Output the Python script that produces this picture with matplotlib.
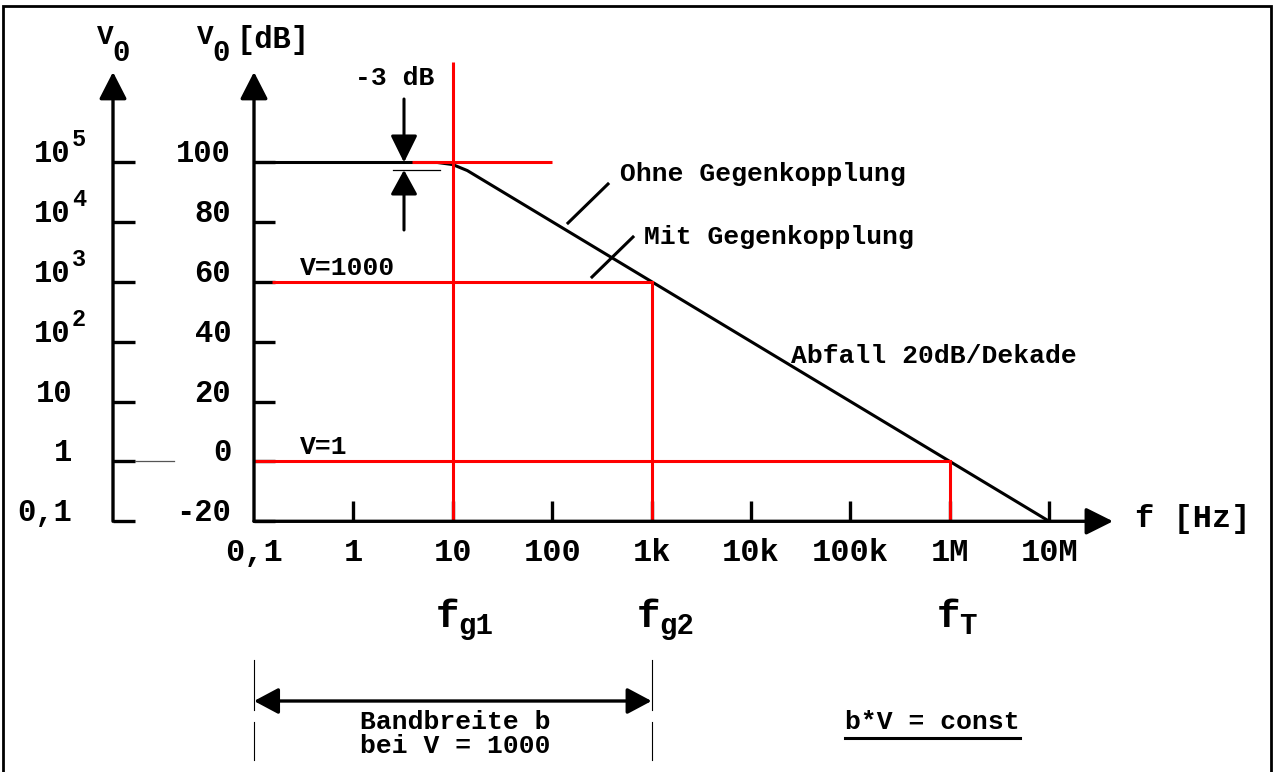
import matplotlib
matplotlib.use("Agg")
import matplotlib.pyplot as plt
from matplotlib.transforms import Affine2D

# ---------------- data ----------------
freq_ticks = [0.1, 1, 10, 100, 1e3, 1e4, 1e5, 1e6, 1e7]
freq_labels = ['0,1', '1', '10', '100', '1k', '10k', '100k', '1M', '10M']
db_ticks = [-20, 0, 20, 40, 60, 80, 100]
db_labels = ['-20', '0', '20', '40', '60', '80', '100']
v0_mant = ['0,1', '1', '10', '10', '10', '10', '10']
v0_exp = ['', '', '', '2', '3', '4', '5']

# open loop response (Ohne Gegenkopplung)
open_f = [0.1, 7, 10, 14, 1e7]
open_db = [100, 100, 99.3, 97.3, -20]

# closed loop (Mit Gegenkopplung)
cl_labels = ['V=1000', 'V=1']
cl_db = [60, 0]
cl_fstart = [0.15, 0.1]
cl_fc = [1e3, 1e6]

fg1 = 10            # corner of open loop
open_gain = 100     # dB
minus3_db = 97.5
fg_names = ['g1', 'g2', 'T']
fg_freqs = [10, 1e3, 1e6]
band_f = [0.1, 1e3]

# ---------------- geometry helpers ----------------
W, H = 1275, 772
X0, DEC = 254.0, 99.4      # pixel of 0.1 Hz, pixels per decade
Y0, PXDB = 461.5, 2.99     # pixel of 0 dB, pixels per dB


def fx(p):
    return 10 ** (-1 + (p - X0) / DEC)


def fy(p):
    return (Y0 - p) / PXDB


FONT = 'Liberation Mono'
RED = '#ff0000'

fig = plt.figure(figsize=(W / 100, H / 100), dpi=100)
ax = fig.add_axes([0, 0, 1, 1])
ax.set_xscale('log')
ax.set_xlim(fx(0), fx(W))
ax.set_ylim(fy(H), fy(0))
ax.axis('off')

PX = Affine2D().scale(1 / W, -1 / H).translate(0, 1) + fig.transFigure


def txt(x, y, s, size, ha='left', va='baseline', trans=PX, **kw):
    ax.text(x, y, s, fontsize=size, ha=ha, va=va, transform=trans,
            family=FONT, weight='bold', color='black', **kw)


def arrow(x0, y0, x1, y1, hl=1.66, hw=0.85, lw=2.4, style='-|>'):
    ax.annotate('', xy=(x1, y1), xytext=(x0, y0),
                arrowprops=dict(arrowstyle=f'{style},head_length={hl},head_width={hw}',
                                lw=lw, color='black', shrinkA=0, shrinkB=0,
                                mutation_scale=10),
                zorder=5)


# border
ax.plot([fx(3), fx(3), fx(1271), fx(1271)], [fy(771), fy(6), fy(6), fy(771)],
        color='black', lw=2, solid_joinstyle='miter', clip_on=False)

AXLW = 2.4
# dB axis
arrow(0.1, -20, 0.1, fy(72))
for d in db_ticks:
    ax.plot([0.1, fx(275)], [d, d], color='black', lw=AXLW, solid_capstyle='butt')
for d, lab in zip(db_ticks, db_labels):
    txt(fx(231), d, lab, 22, ha='right', trans=ax.transData)

# V0 axis
arrow(fx(113), -20, fx(113), fy(72))
for d in db_ticks:
    ax.plot([fx(113), fx(135)], [d, d], color='black', lw=AXLW, solid_capstyle='butt')
ax.plot([fx(135), fx(174)], [0, 0], color='#555555', lw=0.9)
for d, m, e in zip(db_ticks, v0_mant, v0_exp):
    if e:
        txt(fx(70), d, m, 22, ha='right', trans=ax.transData)
        txt(fx(72), d + 16 / PXDB, e, 17, ha='left', trans=ax.transData)
    else:
        txt(fx(72), d, m, 22, ha='right', trans=ax.transData)

# frequency axis
arrow(0.1, -20, fx(1113), -20, hl=1.66, hw=0.83)
for f in freq_ticks[1:]:
    ax.plot([f, f], [-20, fy(501)], color='black', lw=AXLW, solid_capstyle='butt')
for f, lab in zip(freq_ticks, freq_labels):
    txt(f, fy(561), lab, 23, ha='center', trans=ax.transData)
txt(1135, 527, 'f [Hz]', 23)

# axis titles
txt(97, 44, 'V', 20)
txt(112, 61, '0', 21)
txt(197, 44, 'V', 20)
txt(212, 61, '0', 21)
txt(236, 48, '[dB]', 22)

# open loop curve
ax.plot(open_f, open_db, color='black', lw=2.2, zorder=3, solid_capstyle='butt')

# red lines
RLW = 2.2
ax.plot([fg1, fg1], [-20, fy(62)], color=RED, lw=RLW, zorder=4, solid_capstyle='butt')
ax.plot([fx(412), 100], [open_gain, open_gain], color=RED, lw=RLW, zorder=4,
        solid_capstyle='butt')
for lab, d, f0, fc in zip(cl_labels, cl_db, cl_fstart, cl_fc):
    ax.plot([f0, fc, fc], [d, d, -20], color=RED, lw=RLW, zorder=4,
            solid_joinstyle='miter', solid_capstyle='butt')
    txt(fx(300), d + 7 / PXDB, lab, 19, trans=ax.transData)

# -3 dB marker
ax.plot([fx(393), fx(440)], [minus3_db, minus3_db], color='black', lw=0.9, zorder=3)
arrow(fx(404), fy(99), fx(404), open_gain, hl=1.66, hw=0.82, lw=2.2)
arrow(fx(404), fy(230), fx(404), minus3_db, hl=1.5, hw=0.82, lw=2.2)
txt(355, 85, '-3 dB', 19)

# leader lines and annotations
ax.plot([fx(568), fx(608)], [fy(223), fy(184)], color='black', lw=2.2)
ax.plot([fx(592), fx(633)], [fy(277), fy(237)], color='black', lw=2.2)
txt(620, 181, 'Ohne Gegenkopplung', 19)
txt(644, 244, 'Mit Gegenkopplung', 19)
txt(791, 363, 'Abfall 20dB/Dekade', 19)

# corner frequency labels
f_right = [459, 660, 960]
for name, fr in zip(fg_names, f_right):
    txt(fr, 627, 'f', 28, ha='right')
    txt(fr - 1, 634, name, 21, ha='left')

# bandwidth
ax.annotate('', xy=(band_f[1], fy(701)), xytext=(band_f[0], fy(701)),
            arrowprops=dict(arrowstyle='<|-|>,head_length=1.5,head_width=0.8',
                            lw=2.4, color='black', shrinkA=0, shrinkB=0,
                            mutation_scale=10), zorder=5)
for f in band_f:
    ax.plot([f, f], [fy(660), fy(710)], color='black', lw=0.8)
    ax.plot([f, f], [fy(722), fy(760)], color='black', lw=0.8)
txt(455, 729, 'Bandbreite b', 19, ha='center')
txt(455, 753, 'bei V = 1000', 19, ha='center')
txt(932, 729, 'b*V = const', 19, ha='center')
ax.plot([fx(845), fx(1020)], [fy(738), fy(738)], color='black', lw=2.2)

fig.savefig('out.png', dpi=100, facecolor='white')
